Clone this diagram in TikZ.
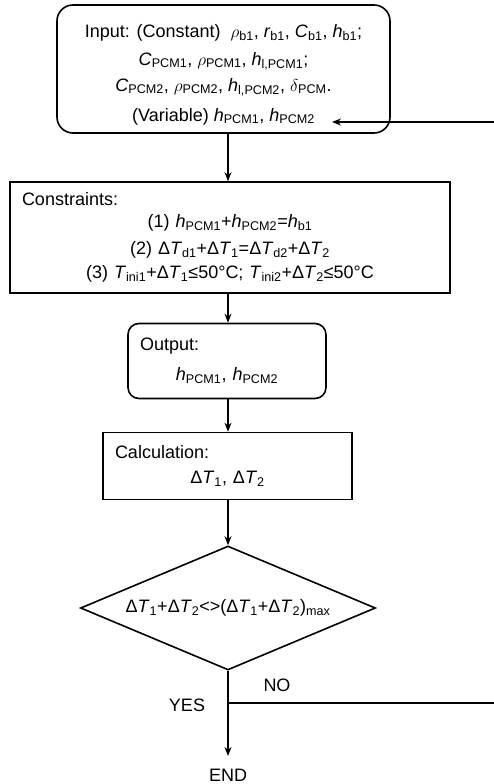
\documentclass[tikz,border=0pt]{standalone}
\usepackage{fontspec}
\setmainfont{Liberation Sans}
\usetikzlibrary{arrows.meta, shapes.geometric, positioning}

\newcommand{\vsub}[2]{\textit{#1}\textsubscript{#2}}
\newcommand{\gsub}[2]{$#1$\textsubscript{#2}}

\begin{document}
\begin{tikzpicture}[x=1pt, y=-1pt, line width=1.6pt,
    >={Stealth[length=9pt, width=7pt]},
    every node/.style={font=\fontsize{18}{27}\selectfont, inner sep=0pt},
    roundbox/.style={draw, rounded corners=#1, align=center},
    sqbox/.style={draw, align=center},
    decbox/.style={draw, diamond, aspect=2.4, minimum width=295pt, minimum height=124pt},
    flow/.style={->}]
        \useasboundingbox (0,0) rectangle (494,784);

        % Boxes
        \node[roundbox=16pt, minimum width=333pt, minimum height=128pt] (inp) at (223.5,69)
            {\rule{0pt}{24pt}Input: (Constant)\ \ \gsub{\rho}{b1}, \vsub{r}{b1}, \vsub{C}{b1}, \vsub{h}{b1};\\[1pt]
             \vsub{C}{PCM1},\ \gsub{\rho}{PCM1}, \vsub{h}{l,PCM1};\\[-1pt]
             \vsub{C}{PCM2},\ \gsub{\rho}{PCM2}, \vsub{h}{l,PCM2}, \gsub{\delta}{PCM}.\\[3pt]
             (Variable) \vsub{h}{PCM1}, \vsub{h}{PCM2}};
        \node[sqbox, minimum width=440pt, minimum height=111pt, text width=416pt] (con) at (230,237.5)
            {\makebox[\linewidth][l]{Constraints:}\\[-5pt]
             (1) \vsub{h}{PCM1}+\vsub{h}{PCM2}=\vsub{h}{b1}\hspace*{30pt}\\[0pt]
             (2) Δ\vsub{T}{d1}+Δ\vsub{T}{1}=Δ\vsub{T}{d2}+Δ\vsub{T}{2}\hspace*{30pt}\\[-3pt]
             (3) \vsub{T}{ini1}+Δ\vsub{T}{1}≤50°C; \vsub{T}{ini2}+Δ\vsub{T}{2}≤50°C\hspace*{20pt}};
        \node[roundbox=11pt, minimum width=198pt, minimum height=75pt, text width=174pt] (out) at (227,361)
            {\makebox[\linewidth][l]{Output:}\\[3pt]
             \vsub{h}{PCM1}, \vsub{h}{PCM2}};
        \node[sqbox, minimum width=249pt, minimum height=67pt, text width=225pt] (calc) at (227.5,466)
            {\makebox[\linewidth][l]{Calculation:}\\[-2pt]
             Δ\vsub{T}{1}, Δ\vsub{T}{2}};
        \node[decbox] (dec) at (228,608)
            {Δ\vsub{T}{1}+Δ\vsub{T}{2}<>(Δ\vsub{T}{1}+Δ\vsub{T}{2})\textsubscript{max}};
        \node (end) at (228,775) {END};

        % Arrows
        \draw[flow] (inp.south -| dec.north) -- (con.north -| dec.north);
        \draw[flow] (con.south -| dec.north) -- (out.north -| dec.north);
        \draw[flow] (out.south -| dec.north) -- (calc.north -| dec.north);
        \draw[flow] (calc.south -| dec.north) -- (dec.north);
        \draw[flow] (dec.south) -- ([yshift=12pt]end.north);

        % Loop back
        \coordinate (split) at (dec.south |- 0,703);
        \coordinate (back) at (332,122);
        \draw[flow] (split) -- (500,703) -- (500,122) -- (back);

        % Labels
        \node (yes) at (187,705) {YES};
        \node (no) at (277,685) {NO};
    \end{tikzpicture}
\end{document}
